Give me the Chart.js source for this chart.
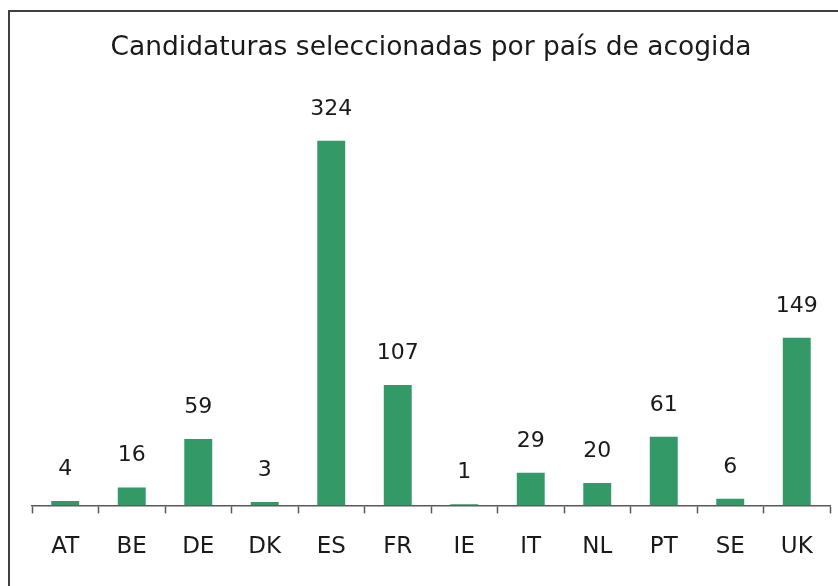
<!DOCTYPE html>
<html>
<head>
  <meta charset="utf-8">
  <title>Candidaturas por pais</title>
  <script src="https://cdn.jsdelivr.net/npm/chart.js@4.4.0/dist/chart.umd.min.js"></script>
<style>
body{
	margin: 0;
	background: #ffffff;
}
#frame{
	position: absolute;
	left: 8px;
	top: 10px;
	width: 840px;
	height: 590px;
	border-top: 2px solid #404040;
	border-left: 2px solid #404040;
}
#chart{
	position: absolute;
	left: 0;
	top: 0;
}
</style>
</head>
<body>
  <div id="frame"></div>
  <canvas id="chart" width="838" height="586"></canvas>

<script>
// countries (host country) and selected applications
var countries = ["AT", "BE", "DE", "DK", "ES", "FR", "IE", "IT", "NL", "PT", "SE", "UK"];
var selected = [4, 16, 59, 3, 324, 107, 1, 29, 20, 61, 6, 149];
var chartTitle = "Candidaturas seleccionadas por país de acogida";

var fontName = "'DejaVu Sans', sans-serif";

// draws the number above each bar
var valueLabels = {
  id: "valueLabels",
  afterDatasetsDraw: function(chart) {
    var ctx = chart.ctx;
    var meta = chart.getDatasetMeta(0);
    ctx.save();
    ctx.font = "22px " + fontName;
    ctx.fillStyle = "#1a1a1a";
    ctx.textAlign = "center";
    ctx.textBaseline = "alphabetic";
    for (var i = 0; i < meta.data.length; i++) {
      var bar = meta.data[i];
      ctx.fillText(String(selected[i]), bar.x, bar.y - 26);
    }
    ctx.restore();
  }
};

var barChart = document.getElementById("chart").getContext("2d");
var myBar = new Chart(barChart, {
  type: "bar",
  data: {
    labels: countries,
    datasets: [{
      data: selected,
      backgroundColor: "#339966",
      borderWidth: 0,
      categoryPercentage: 1.0,
      barPercentage: 0.42
    }]
  },
  options: {
    responsive: false,
    animation: false,
    layout: { padding: { left: 32, right: 8, top: 0, bottom: 5 } },
    plugins: {
      legend: { display: false },
      tooltip: { enabled: false },
      title: {
        display: true,
        text: chartTitle,
        color: "#1a1a1a",
        font: { family: fontName, size: 26.5, weight: "normal" },
        padding: { top: 32, bottom: 42 }
      }
    },
    scales: {
      x: {
        offset: true,
        grid: {
          offset: true,
          drawOnChartArea: false,
          drawTicks: true,
          tickLength: 8,
          tickColor: "#595959",
          tickWidth: 1.5
        },
        border: { display: true, color: "#595959", width: 1.5 },
        ticks: {
          color: "#1a1a1a",
          padding: 20,
          font: { family: fontName, size: 23 }
        }
      },
      y: {
        display: false,
        min: 0,
        max: 355
      }
    }
  },
  plugins: [valueLabels]
});
</script>
</body>
</html>
